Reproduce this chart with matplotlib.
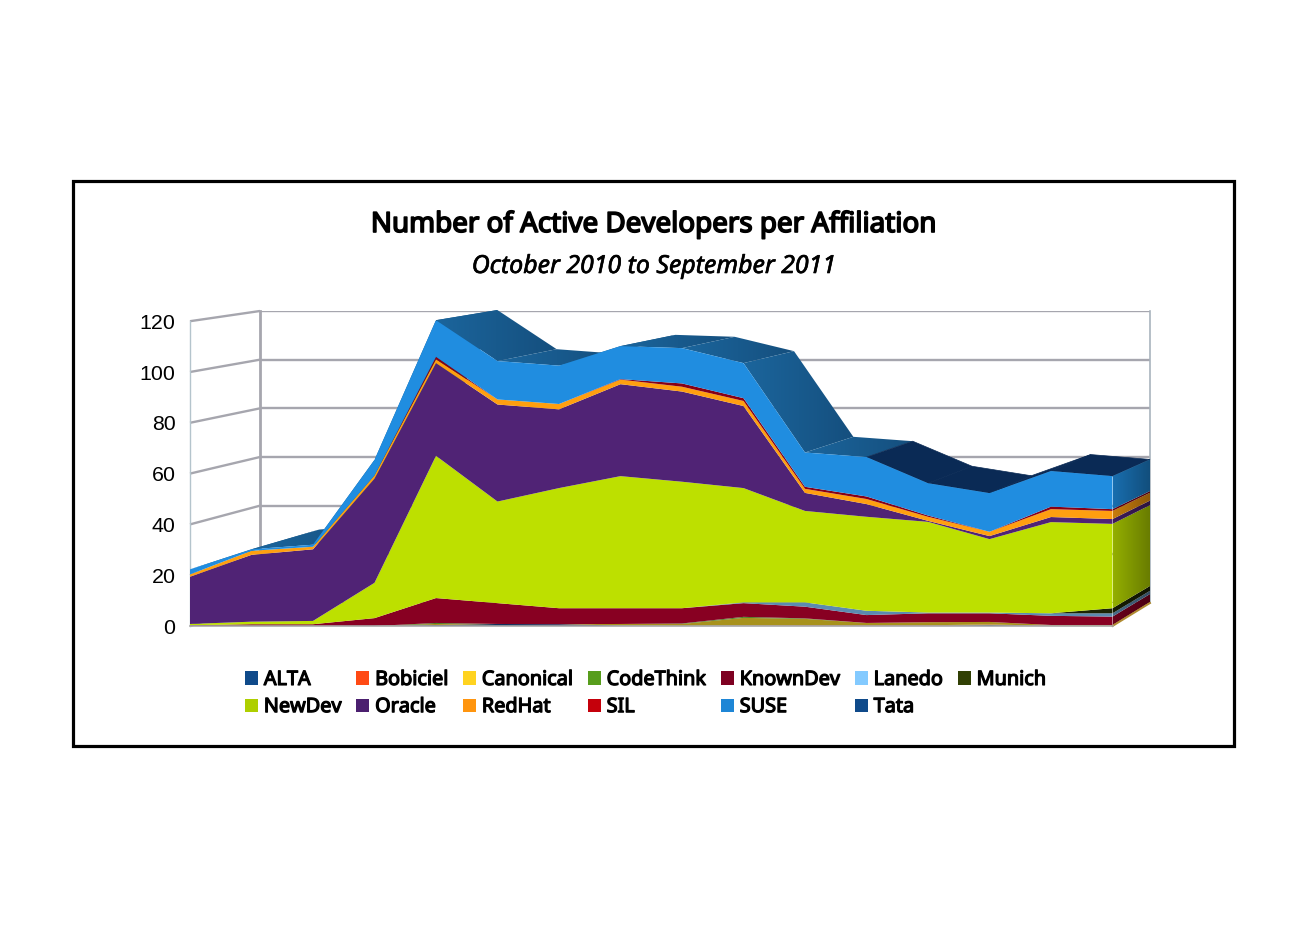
import numpy as np
import matplotlib
matplotlib.use("Agg")
import matplotlib.pyplot as plt
import matplotlib.patheffects as pe
from matplotlib.patches import Polygon, Patch, Rectangle
from matplotlib.colors import LinearSegmentedColormap, to_rgb

W, H = 1309, 926

ALTA      = [0, 0, 0, 0, 0.4, 0.8, 0.7, 0.2, 0, 0, 0, 0, 0, 0.4, 0, 0]
Bobiciel  = [0, 0, 0, 0, 0, 0, 0, 0, 0, 0.2, 0.3, 0.3, 0.3, 0.2, 0.1, 0.1]
Canonical = [0, 0, 0, 0, 0.4, 0, 0, 0.6, 0.8, 3.0, 2.5, 0.9, 1.2, 1.0, 0.3, 0.3]
CodeThink = [0, 0, 0, 0, 0.4, 0, 0, 0, 0.2, 0.4, 0.2, 0, 0, 0, 0, 0]
KnownDev  = [0.3, 0.7, 0.7, 3.1, 9.8, 8.2, 6.3, 6.2, 6.0, 5.4, 4.6, 3.1, 3.5, 3.4, 3.6, 3.3]
Lanedo    = [0, 0, 0, 0, 0, 0, 0, 0, 0, 0.3, 1.7, 1.7, 0.3, 0.3, 1.0, 1.3]
Munich    = [0, 0, 0, 0, 0, 0, 0, 0, 0, 0, 0, 0, 0, 0, 0, 2.0]
NewDev    = [0.5, 1, 1.3, 13.9, 56, 40, 47.3, 52, 49.8, 45, 36, 37, 35.7, 28.9, 35.9, 33.2]
Oracle    = [18.6, 26.3, 28.2, 41, 36.5, 38.2, 31, 36.2, 35.5, 32.3, 7.1, 5, 0.4, 1.2, 2, 1.9]
RedHat    = [0.9, 1.6, 1, 1.3, 1.5, 2, 2.1, 1.8, 1.9, 2, 1.6, 2, 1.6, 1.7, 3.1, 3.2]
SIL       = [0, 0, 0, 0, 1, 0, 0, 0.2, 1.3, 1.1, 0.8, 1, 0.5, 0, 1, 0.7]
SUSE      = [2, 0.6, 0.8, 6.1, 14.4, 15.1, 15.1, 13, 13.9, 13.8, 13.5, 15.5, 12.7, 15.2, 14, 13]
Tata      = [0] * 16

names = ["ALTA", "Bobiciel", "Canonical", "CodeThink", "KnownDev", "Lanedo", "Munich",
         "NewDev", "Oracle", "RedHat", "SIL", "SUSE", "Tata"]
series = [ALTA, Bobiciel, Canonical, CodeThink, KnownDev, Lanedo, Munich,
          NewDev, Oracle, RedHat, SIL, SUSE, Tata]
legend_colors = ["#0f4a8a", "#ff4a14", "#ffd320", "#579d1c", "#7e0021", "#83caff", "#314004",
                 "#aecf00", "#4b1f6f", "#ff950e", "#c5000b", "#1e86d6", "#0f4a8a"]
fill_colors = ["#12305e", "#c8501c", "#a8921c", "#4d7d20", "#880022", "#5b8bb0", "#1c2404",
               "#bde000", "#502375", "#ff9f10", "#880016", "#208de0", "#0f4a8a"]
yticks = [0, 20, 40, 60, 80, 100, 120]

x = np.arange(len(ALTA))
stack = np.cumsum(np.array(series, dtype=float), axis=0)
bottoms = np.vstack([np.zeros(len(x)), stack[:-1]])
top = stack[-1]


def axes_rect(left, right, ybottom, ytop):
    return [left / W, 1 - ybottom / H, (right - left) / W, (ybottom - ytop) / H]


fig = plt.figure(figsize=(W / 100, H / 100), dpi=100, facecolor="white")

back = fig.add_axes(axes_rect(260, 1150, 603, 311), zorder=1)
over = fig.add_axes([0, 0, 1, 1], zorder=2)
front = fig.add_axes(axes_rect(190, 1112.5, 626, 321.2), zorder=3)

for a in (back, front):
    a.set_xlim(0, x[-1])
    a.set_ylim(0, 120)
    a.patch.set_alpha(0)
    for s in a.spines.values():
        s.set_visible(False)

WALL = "#a6a6ae"
back.set_xticks([])
back.set_yticks(yticks)
back.tick_params(left=False, labelleft=False)
back.grid(axis="y", color=WALL, lw=1.7)
back.set_axisbelow(True)
back.spines["left"].set_visible(True)
back.spines["left"].set_color(WALL)
back.spines["left"].set_linewidth(2.0)
back.spines["right"].set_visible(True)
back.spines["right"].set_color("#a9b4bd")
back.spines["right"].set_linewidth(1.2)

over.set_xlim(0, W)
over.set_ylim(0, H)
over.axis("off")


def fp(i, v):
    return front.transData.transform((i, v))


def bp(i, v):
    return back.transData.transform((i, v))


def grad_poly(pts, c1, c2, zorder=2):
    pts = np.array(pts)
    cmap = LinearSegmentedColormap.from_list("g", [c1, c2])
    x0, x1 = pts[:, 0].min(), pts[:, 0].max()
    y0, y1 = pts[:, 1].min(), pts[:, 1].max()
    if x1 - x0 < 0.1 or y1 - y0 < 0.1:
        return
    im = over.imshow(np.linspace(0, 1, 64)[None, :], cmap=cmap, extent=(x0, x1, y0, y1),
                     aspect="auto", zorder=zorder, interpolation="bilinear")
    clip = Polygon(pts, closed=True, transform=over.transData, fc="none", ec="none")
    over.add_patch(clip)
    im.set_clip_path(clip)


# left wall
for v in yticks:
    a, b = fp(0, v), bp(0, v)
    over.plot([a[0], b[0]], [a[1], b[1]], color=WALL, lw=1.7, zorder=1, solid_capstyle="butt")
a, b = fp(0, 0), fp(0, 120)
over.plot([a[0], b[0]], [a[1], b[1]], color="#b4c4cc", lw=1.0, zorder=1)

# top surface of the stack
NAVY_FROM = 11
for i in range(len(x) - 1):
    pts = [fp(i, top[i]), fp(i + 1, top[i + 1]), bp(i + 1, top[i + 1]), bp(i, top[i])]
    if i >= NAVY_FROM:
        over.add_patch(Polygon(pts, closed=True, fc="#0a2a55", ec="#0a2a55", lw=0.5, zorder=2))
    else:
        grad_poly(pts, "#1b659c", "#154f7e", zorder=2)

# right side of the stack
last = x[-1]
for low, up, col in zip(bottoms[:, last], stack[:, last], fill_colors):
    if up - low <= 0:
        continue
    pts = [fp(last, low), fp(last, up), bp(last, up), bp(last, low)]
    c = np.array(to_rgb(col))
    grad_poly(pts, tuple(c * 0.78), tuple(c * 0.55), zorder=3)

# floor edge
a, b = fp(last, 0), bp(last, 0)
over.plot([a[0], b[0]], [a[1], b[1]], color="#b08a30", lw=1.4, zorder=4)

# front face
front.stackplot(x, *series, colors=fill_colors, lw=0)
front.plot([0, last], [0, 0], color="#a8a8a8", lw=1.2, clip_on=False, zorder=1)
front.set_xticks([])
front.set_yticks(yticks)
front.tick_params(axis="y", length=0, pad=10.5, labelsize=15.4, labelcolor="black")
for t in front.get_yticklabels():
    t.set_family("Liberation Sans")

# frame
fig.add_artist(Rectangle((73 / W, 1 - 745.5 / H), 1160.5 / W, 564.5 / H, transform=fig.transFigure,
                         fc="none", ec="black", lw=2.3))

title = fig.text(653.5 / W, 1 - 225 / H, "Number of Active Developers per Affiliation", ha="center", va="center",
                 family="Noto Sans", size=20.0, color="black")
title.set_path_effects([pe.withStroke(linewidth=1.2, foreground="black")])
sub = fig.text(654 / W, 1 - 266.5 / H, "October 2010 to September 2011", ha="center", va="center",
               family="Noto Sans", style="italic", size=17.9, color="black")
sub.set_path_effects([pe.withStroke(linewidth=0.45, foreground="black")])

handles = [Patch(fc=c, ec="none") for c in legend_colors]
order = [0, 7, 1, 8, 2, 9, 3, 10, 4, 11, 5, 12, 6]
leg = fig.legend([handles[i] for i in order], [names[i] for i in order], ncol=7, frameon=False,
                 loc="upper left", bbox_to_anchor=(239 / W, 1 - 664 / H),
                 prop={"family": "Noto Sans", "size": 14.3},
                 handlelength=0.65, handleheight=0.65, handletextpad=0.3,
                 columnspacing=0.74, labelspacing=0.36, borderpad=0.3, borderaxespad=0)
for t in leg.get_texts():
    t.set_path_effects([pe.withStroke(linewidth=0.9, foreground="black")])

fig.savefig("out.png", dpi=100, facecolor="white")
